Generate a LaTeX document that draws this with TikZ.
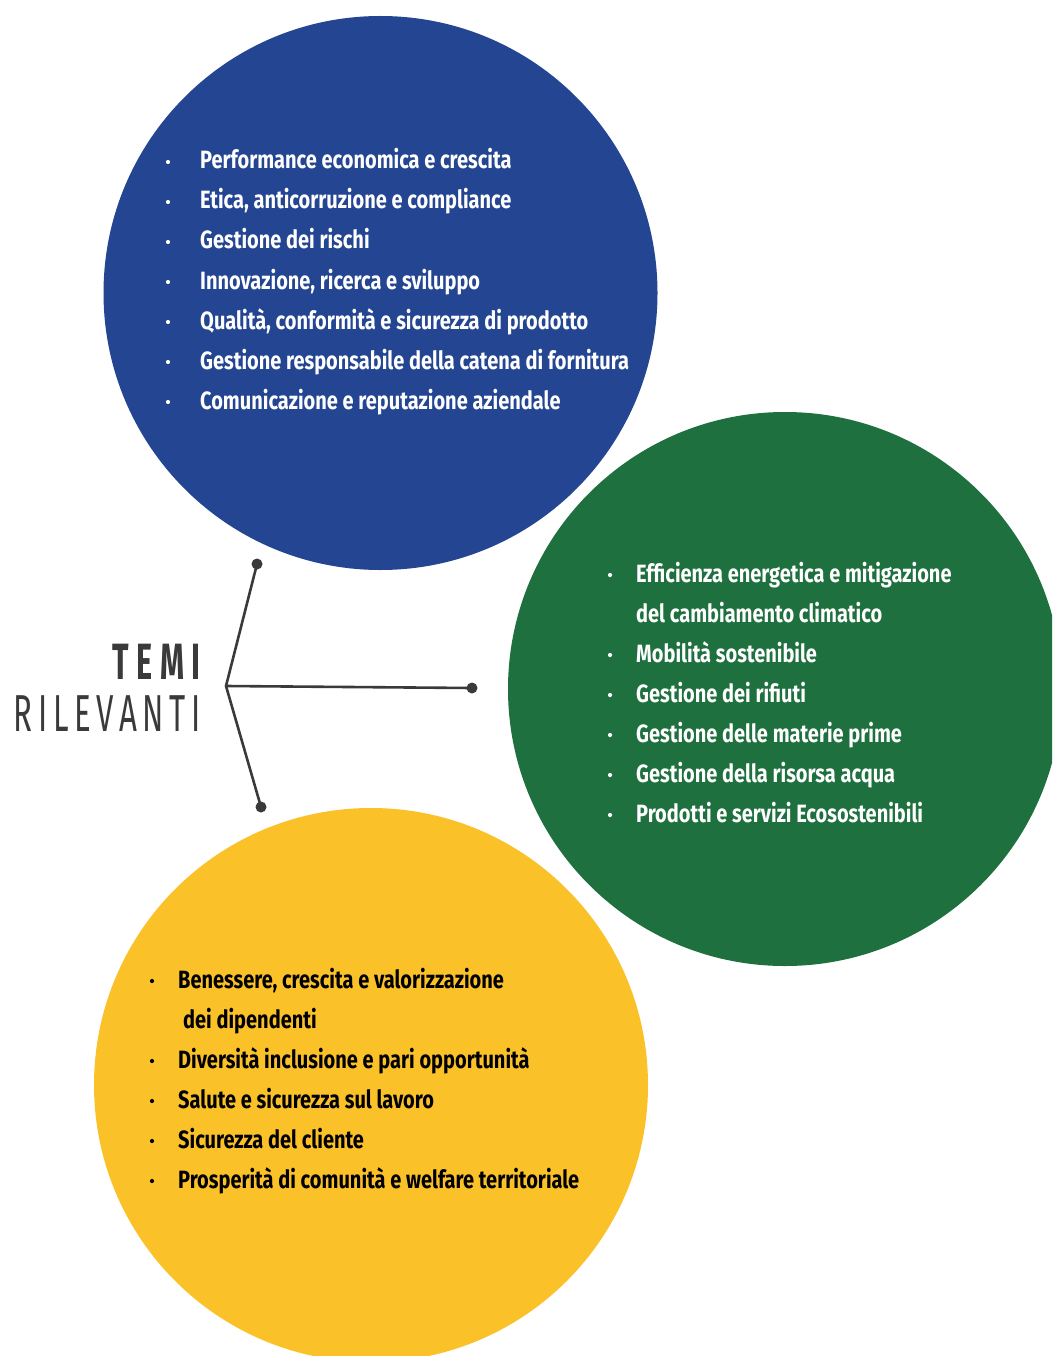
\documentclass[tikz,border=0pt]{standalone}
\usepackage{fontspec}
\newfontfamily\itemfont{Fira Sans}[FakeStretch=0.8]
\newfontfamily\titlefont{Fira Sans}[FakeStretch=0.6]
\definecolor{cblue}{RGB}{36,69,146}
\definecolor{cgreen}{RGB}{30,112,62}
\definecolor{cyellow}{RGB}{251,193,40}
\definecolor{cdark}{RGB}{58,58,58}
\tikzset{
  itm/.style={anchor=base west,inner sep=0pt,font=\itemfont\bfseries\fontsize{25}{25}\selectfont},
  wht/.style={itm,text=white},
  blk/.style={itm,text=black},
  conn/.style={draw=cdark,line width=2.6pt},
  enddot/.style={circle,fill=cdark,inner sep=0pt,minimum size=11pt},
}
\begin{document}
\begin{tikzpicture}[x=1pt,y=-1pt]
\clip (0,0) rectangle (1052,1356);
\fill[white] (0,0) rectangle (1052,1356);
% circles
\fill[cblue] (380.5,293) circle (277);
\fill[cgreen] (785,689) circle (277);
\fill[cyellow] (371,1085) circle (277);
% title
\node[anchor=base east,inner sep=0pt,text=cdark,font=\titlefont\bfseries\fontsize{51}{51}\selectfont] (temi) at (201,679) {\makebox[88pt][s]{T\hfill E\hfill M\hfill I}};
\node[anchor=base east,inner sep=0pt,text=cdark,font=\titlefont\fontsize{52}{52}\selectfont] (ril) at (201,731) {\makebox[187pt][s]{R\hfill I\hfill L\hfill E\hfill V\hfill A\hfill N\hfill T\hfill I}};
% connectors
\coordinate (hub) at (226,686);
\node[enddot] (d1) at (257,564) {};
\node[enddot] (d2) at (472,688) {};
\node[enddot] (d3) at (261,807) {};
\draw[conn] (d1.center) -- (hub) -- (d3.center);
\draw[conn] (hub) -- (d2.center);
% blue items
\foreach \y/\t [count=\i] in {169/Performance economica e crescita,209/{Etica, anticorruzione e compliance},249/Gestione dei rischi,289/{Innovazione, ricerca e sviluppo},329/{Qualità, conformità e sicurezza di prodotto},369/Gestione responsabile della catena di fornitura,409/Comunicazione e reputazione aziendale}{
  \fill[white] (168,\y-7) circle (2.1);
  \node[wht] (b\i) at (200,\y) {\t};
}
% green items
\foreach \y/\t [count=\i] in {582/Efficienza energetica e mitigazione,662/Mobilità sostenibile,702/Gestione dei rifiuti,742/Gestione delle materie prime,782/Gestione della risorsa acqua,822/Prodotti e servizi Ecosostenibili}{
  \fill[white] (610,\y-7) circle (2.1);
  \node[wht] (g\i) at (636,\y) {\t};
}
\node[wht] (g1b) at (636,622) {del cambiamento climatico};
% yellow items
\foreach \y/\t [count=\i] in {988/{Benessere, crescita e valorizzazione},1068/Diversità inclusione e pari opportunità,1108/Salute e sicurezza sul lavoro,1148/Sicurezza del cliente,1188/Prosperità di comunità e welfare territoriale}{
  \fill[black] (152,\y-7) circle (2.1);
  \node[blk] (y\i) at (178,\y) {\t};
}
\node[blk] (y1b) at (183,1028) {dei dipendenti};
\end{tikzpicture}
\end{document}
